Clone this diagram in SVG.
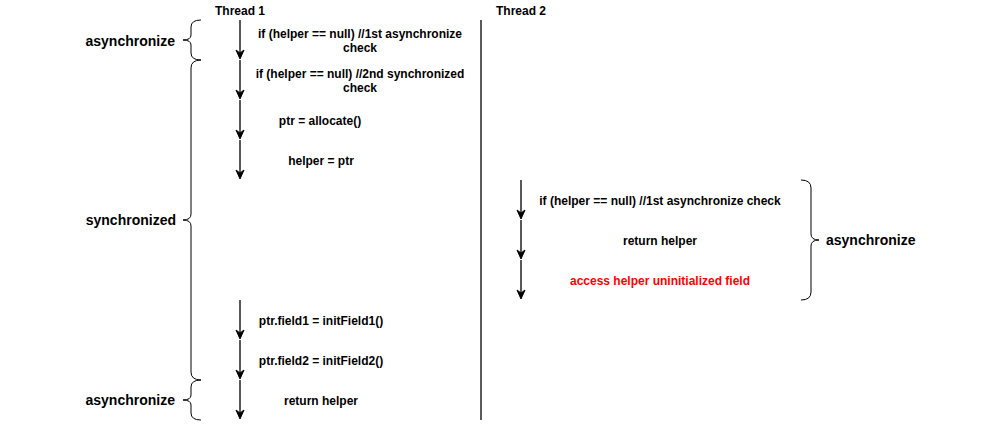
<svg xmlns="http://www.w3.org/2000/svg" width="1002" height="430" viewBox="0 0 1002 430">
<defs>
<style>
.t{font-family:"Liberation Sans",Arial,sans-serif;font-weight:bold;font-size:12px;fill:#000;text-anchor:middle}
.h{font-family:"Liberation Sans",Arial,sans-serif;font-weight:bold;font-size:12px;fill:#000;text-anchor:middle}
.b{font-family:"Liberation Sans",Arial,sans-serif;font-weight:bold;font-size:14px;fill:#000}
.ln{stroke:#000;stroke-width:1.3;fill:none}
.br{stroke:#000;stroke-width:1;fill:none}
.head{fill:#000;stroke:#000;stroke-width:1}
</style>
</defs>
<rect width="1002" height="430" fill="#fff"/>
<g id="headers">
<text class="h" x="240" y="15">Thread 1</text>
<text class="h" x="521" y="15">Thread 2</text>
</g>
<g id="divider"><line class="ln" x1="481" y1="20" x2="481" y2="420"/></g>
<g id="connectors">
<path class="ln" d="M240,20V52 M240,60V92 M240,100V132 M240,140V172 M240,300V332 M240,340V372 M240,380V412 M521,180V212 M521,220V252 M521,260V292"/>
<path class="head" d="M236,50L240,59L244,50L240,53Z M236,90L240,99L244,90L240,93Z M236,130L240,139L244,130L240,133Z M236,170L240,179L244,170L240,173Z M236,330L240,339L244,330L240,333Z M236,370L240,379L244,370L240,373Z M236,410L240,419L244,410L240,413Z M517,210L521,219L525,210L521,213Z M517,250L521,259L525,250L521,253Z M517,290L521,299L525,290L521,293Z"/>
</g>
<g id="n1"><text class="t" x="360" y="38">if (helper == null) //1st asynchronize</text><text class="t" x="360" y="52">check</text></g>
<g id="n2"><text class="t" x="360" y="78">if (helper == null) //2nd synchronized</text><text class="t" x="360" y="92">check</text></g>
<g id="n3"><text class="t" x="320" y="125">ptr = allocate()</text></g>
<g id="n4"><text class="t" x="321" y="165">helper = ptr</text></g>
<g id="n5"><text class="t" x="321" y="325">ptr.field1 = initField1()</text></g>
<g id="n6"><text class="t" x="321" y="365">ptr.field2 = initField2()</text></g>
<g id="n7"><text class="t" x="321" y="405">return helper</text></g>
<g id="m1"><text class="t" x="660" y="205">if (helper == null) //1st asynchronize check</text></g>
<g id="m2"><text class="t" x="660" y="245">return helper</text></g>
<g id="m3"><text class="t" x="660" y="285" style="fill:#ff0000">access helper uninitialized field</text></g>
<g id="brace1">
<path class="br" d="M201,20 Q191,20 191,27 L191,35 Q191,40 183,40 Q191,40 191,45 L191,53 Q191,60 201,60"/>
<text class="b" x="175" y="46" text-anchor="end">asynchronize</text>
</g>
<g id="brace2">
<path class="br" d="M201,60 Q191,60 191,68 L191,214 Q191,220 183,220 Q191,220 191,226 L191,372 Q191,380 201,380"/>
<text class="b" x="176" y="225" text-anchor="end">synchronized</text>
</g>
<g id="brace3">
<path class="br" d="M201,380 Q191,380 191,387 L191,395 Q191,400 183,400 Q191,400 191,405 L191,413 Q191,420 201,420"/>
<text class="b" x="175" y="405" text-anchor="end">asynchronize</text>
</g>
<g id="brace4">
<path class="br" d="M801,180 Q811,180 811,188 L811,234 Q811,240 819,240 Q811,240 811,246 L811,292 Q811,300 801,300"/>
<text class="b" x="826" y="245">asynchronize</text>
</g>
</svg>
